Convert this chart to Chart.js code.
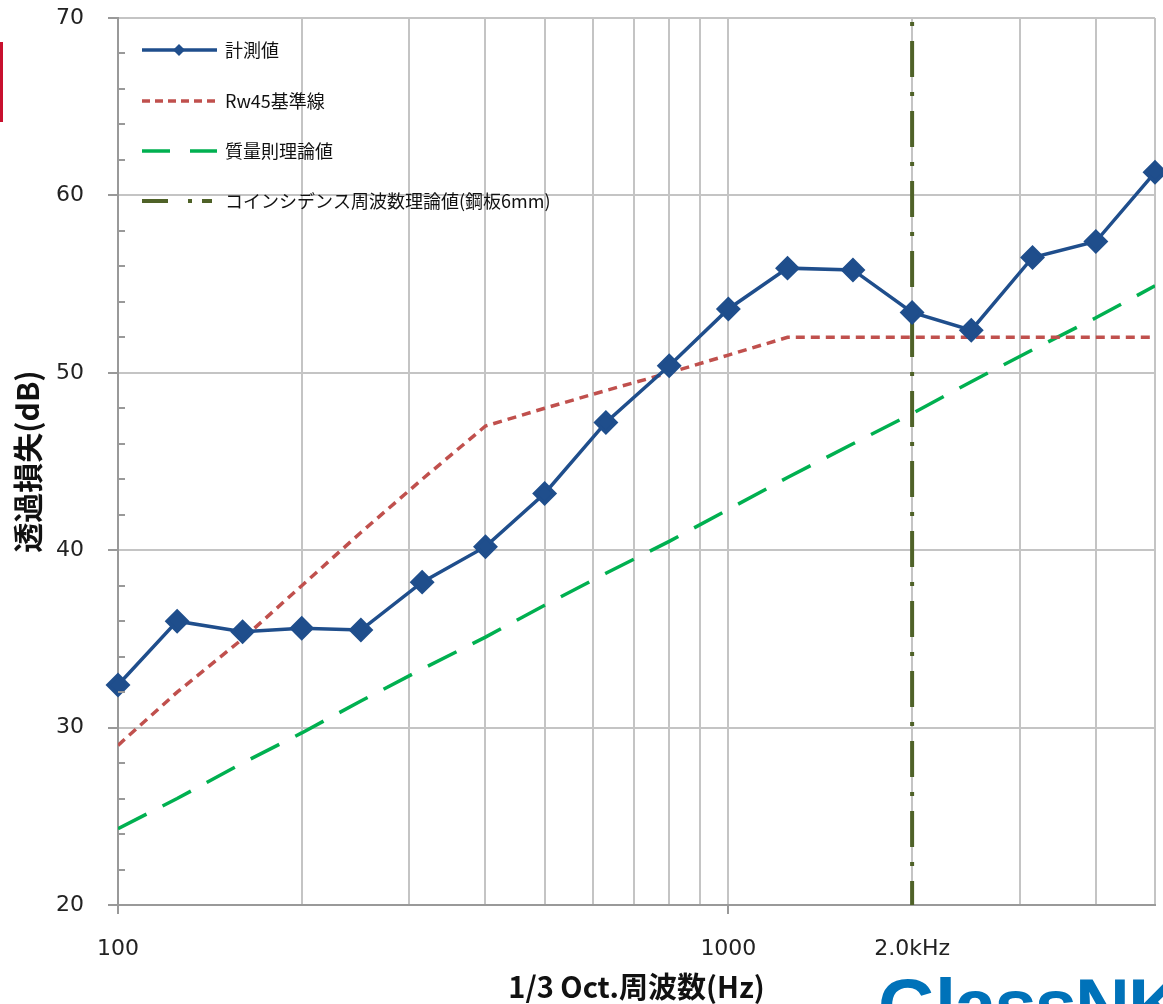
<!DOCTYPE html>
<html>
<head>
<meta charset="utf-8">
<script src="https://cdn.jsdelivr.net/npm/chart.js@4/dist/chart.umd.min.js"></script>
<style>
  html, body { margin: 0; padding: 0; background: #fff; }
  #wrap { position: relative; width: 1163px; height: 1004px; overflow: hidden; }
  #redbar { position: absolute; left: 0; top: 42px; width: 3px; height: 80px; background: #c8102e; }
  #logo { position: absolute; left: 878px; top: 968px; font: bold 76px "Liberation Sans", Arial, sans-serif;
          color: #0072b9; letter-spacing: -2px; line-height: 1; }
</style>
</head>
<body>
<div id="wrap">
  <canvas id="myChart" width="1163" height="1004"></canvas>
  <div id="redbar"></div>
  <div id="logo">GlassNK</div>
</div>
<script>
// 1/3 octave band centre frequencies (Hz)
const freqs = [100, 125, 160, 200, 250, 315, 400, 500, 630, 800, 1000, 1250, 1600, 2000, 2500, 3150, 4000, 5000];
// measured transmission loss (dB)
const measured = [32.4, 36.0, 35.4, 35.6, 35.5, 38.2, 40.2, 43.2, 47.2, 50.4, 53.6, 55.9, 55.8, 53.4, 52.4, 56.5, 57.4, 61.3];
// Rw45 reference curve
const rw45 = [29, 32, 35, 38, 41, 44, 47, 48, 49, 50, 51, 52, 52, 52, 52, 52, 52, 52];
// mass law theory
const massLaw = [24.3, 26.0, 28.0, 29.7, 31.5, 33.3, 35.1, 36.9, 38.7, 40.5, 42.3, 44.1, 46.0, 47.7, 49.5, 51.3, 53.1, 54.9];
// coincidence frequency (steel 6mm)
const coincidenceFreq = 2000;

const xTicks = [100, 200, 300, 400, 500, 600, 700, 800, 900, 1000, 2000, 3000, 4000, 5000];
const xLabels = { 100: '100', 1000: '1000', 2000: '2.0kHz' };
const yMin = 20, yMax = 70;

const labels = ['計測値', 'Rw45基準線', '質量則理論値', 'コインシデンス周波数理論値(鋼板6mm)'];

const toPoints = (vals) => freqs.map((f, i) => ({ x: f, y: vals[i] }));

const cjk = '"Noto Sans CJK JP", "Noto Sans", sans-serif';
const num = '"DejaVu Sans", sans-serif';

const legendPlugin = {
    id: 'innerLegend',
    afterDraw( chart ) {
        const ctx = chart.ctx;
        const rows = [50, 101, 151, 201];
        chart.data.datasets.forEach( ( ds, i ) => {
            const y = rows[i];
            ctx.save();
            ctx.strokeStyle = ds.borderColor;
            ctx.lineWidth = ds.borderWidth;
            ctx.setLineDash( ds.legendDash || ds.borderDash || [] );
            ctx.beginPath();
            ctx.moveTo( 142, y );
            ctx.lineTo( 217, y );
            ctx.stroke();
            ctx.setLineDash( [] );
            if ( ds.pointRadius > 0 ) {
                ctx.fillStyle = ds.borderColor;
                ctx.beginPath();
                ctx.moveTo( 179, y - 6 );
                ctx.lineTo( 185, y );
                ctx.lineTo( 179, y + 6 );
                ctx.lineTo( 173, y );
                ctx.closePath();
                ctx.fill();
            }
            ctx.fillStyle = '#111';
            ctx.font = '18px ' + cjk;
            ctx.textBaseline = 'middle';
            ctx.fillText( ds.label, 225, y );
            ctx.restore();
        } );
    }
};

const minorTicksPlugin = {
    id: 'minorTicks',
    afterDraw( chart ) {
        const ctx = chart.ctx;
        const ys = chart.scales.y;
        const left = chart.chartArea.left;
        ctx.save();
        ctx.strokeStyle = '#999';
        ctx.lineWidth = 2;
        for ( let v = yMin; v <= yMax; v += 2 ) {
            if ( v % 10 === 0 ) continue;
            const p = Math.round( ys.getPixelForValue( v ) );
            ctx.beginPath();
            ctx.moveTo( left, p );
            ctx.lineTo( left + 7, p );
            ctx.stroke();
        }
        ctx.restore();
    }
};

new Chart( document.getElementById( 'myChart' ).getContext( '2d' ), {
    type: 'line',
    data: {
        datasets: [
            {
                label: labels[0],
                data: toPoints( measured ),
                borderColor: '#1f4e8c',
                backgroundColor: '#1f4e8c',
                borderWidth: 3.5,
                pointStyle: 'rectRot',
                pointRadius: 10,
                pointHoverRadius: 10,
                clip: false,
                order: 0,
            },
            {
                label: labels[1],
                data: toPoints( rw45 ),
                borderColor: '#c0504d',
                borderWidth: 3.5,
                borderDash: [9, 6],
                legendDash: [8, 5],
                pointRadius: 0,
                order: 2,
            },
            {
                label: labels[2],
                data: toPoints( massLaw ),
                borderColor: '#00b050',
                borderWidth: 3.5,
                borderDash: [32, 18],
                legendDash: [28, 20],
                pointRadius: 0,
                order: 3,
            },
            {
                label: labels[3],
                // drawn top to bottom so the dash pattern starts at the top edge
                data: [{ x: coincidenceFreq, y: yMax }, { x: coincidenceFreq, y: yMin }],
                borderColor: '#4f6228',
                borderWidth: 4,
                borderDash: [36, 15, 4, 15],
                borderDashOffset: 47,
                legendDash: [26, 20, 4, 10, 10, 100],
                pointRadius: 0,
                order: 1,
            },
        ]
    },
    options: {
        responsive: false,
        animation: false,
        devicePixelRatio: 1,
        layout: { autoPadding: false, padding: { top: 18, right: 8, left: 0, bottom: 0 } },
        plugins: {
            legend: { display: false },
            tooltip: { enabled: false },
        },
        scales: {
            x: {
                type: 'logarithmic',
                min: 100,
                max: 5000,
                afterBuildTicks: ( scale ) => { scale.ticks = xTicks.map( v => ({ value: v }) ); },
                afterFit: ( scale ) => {
                    scale.height = 99;
                    scale.paddingLeft = 0;
                    scale.paddingRight = 0;
                },
                border: { color: '#999', width: 2 },
                grid: {
                    color: '#c4c4c4',
                    lineWidth: 2,
                    tickLength: 9,
                    tickColor: ( c ) => xLabels[c.tick && c.tick.value] && c.tick.value !== 2000 ? '#999' : 'rgba(0,0,0,0)',
                },
                ticks: {
                    autoSkip: false,
                    maxRotation: 0,
                    padding: 22,
                    color: '#222',
                    font: { family: num, size: 22 },
                    callback: ( v ) => xLabels[v] || '',
                },
                title: {
                    display: true,
                    text: '1/3 Oct.周波数(Hz)',
                    color: '#111',
                    font: { family: cjk, size: 29, weight: 'bold', lineHeight: 1 },
                    padding: { top: 0, bottom: 3 },
                },
            },
            y: {
                min: yMin,
                max: yMax,
                afterFit: ( scale ) => {
                    scale.width = 118;
                    scale.paddingTop = 0;
                    scale.paddingBottom = 0;
                },
                border: { color: '#999', width: 2 },
                grid: {
                    color: ( c ) => c.tick && c.tick.value % 10 === 0 ? '#c4c4c4' : 'rgba(0,0,0,0)',
                    lineWidth: 2,
                    tickLength: 10,
                    tickColor: ( c ) => c.tick && c.tick.value % 10 === 0 ? '#999' : 'rgba(0,0,0,0)',
                },
                ticks: {
                    stepSize: 2,
                    padding: 24,
                    color: '#222',
                    font: { family: num, size: 22 },
                    callback: ( v ) => v % 10 === 0 ? String( v ) : '',
                },
                title: {
                    display: true,
                    text: '透過損失(dB)',
                    color: '#111',
                    font: { family: cjk, size: 30, weight: 'bold', lineHeight: 1 },
                    padding: { top: 13, bottom: 0 },
                },
            },
        },
    },
    plugins: [legendPlugin, minorTicksPlugin],
} );
</script>
</body>
</html>
